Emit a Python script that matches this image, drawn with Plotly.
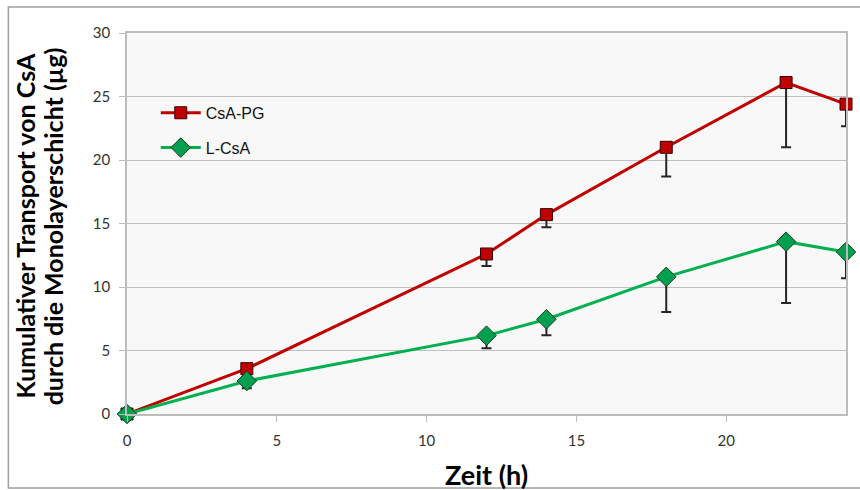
import plotly.graph_objects as go

time_h = [0, 4, 12, 14, 18, 22, 24]
csa_pg = [0, 3.57, 12.6, 15.7, 21.0, 26.1, 24.4]
csa_pg_err_minus = [0, 0.0, 0.95, 1.0, 2.3, 5.1, 1.75]
l_csa = [0, 2.6, 6.17, 7.46, 10.8, 13.57, 12.76]
l_csa_err_minus = [0, 0.58, 1.0, 1.26, 2.77, 4.83, 2.07]
x_ticks = [0, 5, 10, 15, 20]
y_ticks = [0, 5, 10, 15, 20, 25, 30]
y_title_lines = ["Kumulativer Transport von CsA", "durch die Monolayerschicht (µg)"]
x_title = "Zeit (h)"

fig = go.Figure()
fig.add_trace(go.Scatter(
    x=time_h, y=csa_pg, name="CsA-PG", mode="lines+markers", legendgroup="a", cliponaxis=False,
    line=dict(color="#C00000", width=3),
    marker=dict(symbol="square", size=12, color="#C00000", line=dict(color="#3a0000", width=1)),
    error_y=dict(type="data", symmetric=False, array=[0]*len(time_h), arrayminus=csa_pg_err_minus,
                 color="#262626", thickness=2, width=5),
))
fig.add_trace(go.Scatter(
    x=time_h, y=l_csa, name="L-CsA", mode="lines+markers", legendgroup="b", cliponaxis=False,
    line=dict(color="#00B050", width=3),
    marker=dict(symbol="diamond", size=15, color="#00A050", line=dict(color="#1a3a1a", width=1)),
    error_y=dict(type="data", symmetric=False, array=[0]*len(time_h), arrayminus=l_csa_err_minus,
                 color="#262626", thickness=2, width=5),
))

tickfont = dict(family="Lato, sans-serif", size=15, color="#333")
fig.update_layout(
    width=860, height=490,
    margin=dict(l=127, r=12, t=33, b=76),
    paper_bgcolor="white", plot_bgcolor="#F8F8F8",
    font=dict(family="Lato, Liberation Sans, sans-serif", color="#222"),
    showlegend=True,
    legend=dict(x=0.04, y=0.835, xanchor="left", yanchor="top", bgcolor="rgba(0,0,0,0)",
                font=dict(family="Liberation Sans, Arial, sans-serif", size=16, color="#111"),
                traceorder="grouped", tracegroupgap=11, itemwidth=40),
    xaxis=dict(range=[0, 24], tickvals=x_ticks, showgrid=False, zeroline=False,
               showline=True, linecolor="#BDBDBD", linewidth=1.5, mirror=True,
               ticks="outside", ticklen=6, tickcolor="#BDBDBD", ticklabelstandoff=6,
               tickfont=tickfont),
    yaxis=dict(range=[0, 30], tickvals=y_ticks, showgrid=True, gridcolor="#BFBFBF", gridwidth=1.2,
               zeroline=False, showline=True, linecolor="#BDBDBD", linewidth=1.5, mirror=True,
               ticks="outside", ticklen=6, tickcolor="#BDBDBD", ticklabelstandoff=6,
               tickfont=tickfont),
    shapes=[dict(type="rect", xref="paper", yref="paper", x0=-0.165, x1=1.03, y0=-0.194, y1=1.068,
                 line=dict(color="#9E9E9E", width=1.5), fillcolor="rgba(0,0,0,0)", layer="below")],
    annotations=[
        dict(text="<b>" + y_title_lines[0] + "</b>",
             xref="paper", yref="paper", x=(25 - 127) / 721, y=0.493, xanchor="center", yanchor="middle",
             textangle=-90, showarrow=False,
             font=dict(family="Lato, sans-serif", size=25, color="#000")),
        dict(text="<b>" + y_title_lines[1] + "</b>",
             xref="paper", yref="paper", x=(53 - 127) / 721, y=0.493, xanchor="center", yanchor="middle",
             textangle=-90, showarrow=False,
             font=dict(family="Lato, sans-serif", size=25, color="#000")),
        dict(text="<b>" + x_title + "</b>", xref="paper", yref="paper", x=0.5, y=-0.16,
             xanchor="center", yanchor="middle",
             showarrow=False, font=dict(family="Lato, sans-serif", size=27, color="#000")),
    ],
)

fig.write_html("out.html")
